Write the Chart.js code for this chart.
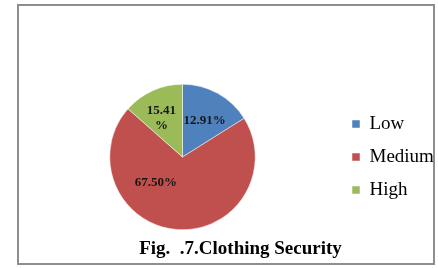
<!DOCTYPE html>
<html>
<head>
<meta charset="utf-8">
<script src="https://cdn.jsdelivr.net/npm/chart.js@4/dist/chart.umd.min.js"></script>
<style>
    html, body { margin: 0; padding: 0; background: #ffffff; overflow: hidden; }
    #wrap { position: relative; width: 438px; height: 268px; overflow: hidden; }
    #frame {
        position: absolute; left: 17px; top: 4px; width: 418px; height: 261px;
        box-sizing: border-box; border: 2px solid #8e8e8e; pointer-events: none;
    }
    #chart { position: absolute; left: 0; top: 0; }
</style>
</head>
<body>
<div id="wrap">
    <canvas id="chart" width="450" height="268" style="width:450px;height:268px"></canvas>
    <div id="frame"></div>
</div>
<script>
// Clothing Security - pie with manual data labels (as printed on the figure)

const categories = ['Low', 'Medium', 'High'];
// slice sizes as drawn in the figure
const shares = [15.41, 67.50, 12.91];
// label texts exactly as printed on each slice
const sliceLabels = [['12.91%'], ['67.50%'], ['15.41', '%']];
const sliceColors = ['#4F81BD', '#C0504D', '#9BBB59'];

const serif = "'Liberation Serif', 'Times New Roman', serif";

// where each label sits: [angle shift in degrees, fraction of radius]
const labelPlacement = [[2.5, 0.58], [41, 0.51], [-4, 0.61]];

const sliceLabelPlugin = {
    id: 'sliceLabels',
    afterDatasetsDraw(chart) {
        const ctx = chart.ctx;
        const meta = chart.getDatasetMeta(0);
        ctx.save();
        ctx.font = 'bold 13px ' + serif;
        ctx.fillStyle = '#161616';
        ctx.textAlign = 'center';
        ctx.textBaseline = 'middle';
        meta.data.forEach((arc, i) => {
            const p = arc.getProps(['x', 'y', 'startAngle', 'endAngle', 'outerRadius'], true);
            const place = labelPlacement[i];
            const mid = (p.startAngle + p.endAngle) / 2 + place[0] * Math.PI / 180;
            const r = p.outerRadius * place[1];
            const cx = p.x + Math.cos(mid) * r;
            const cy = p.y + Math.sin(mid) * r;
            const lines = sliceLabels[i];
            const lh = 14.5;
            lines.forEach((line, k) => {
                ctx.fillText(line, cx, cy + (k - (lines.length - 1) / 2) * lh);
            });
        });
        ctx.restore();
    }
};

// empty box between pie and legend so the pie sits further left
const legendGapPlugin = {
    id: 'legendGap',
    beforeInit(chart) {
        Chart.layouts.addBox(chart, {
            position: 'right',
            weight: 0,
            fullSize: false,
            options: {},
            left: 0, top: 0, right: 0, bottom: 0, width: 0, height: 0,
            isHorizontal() { return false; },
            update(maxWidth, maxHeight) {
                this.width = 18.5;
                this.height = maxHeight;
            },
            getPadding() { return { top: 0, left: 0, bottom: 0, right: 0 }; },
            draw() {}
        });
    }
};

new Chart(document.getElementById('chart'), {
    type: 'pie',
    data: {
        labels: categories,
        datasets: [{
            data: shares,
            backgroundColor: sliceColors,
            borderColor: '#ffffff',
            borderWidth: 0.5
        }]
    },
    options: {
        responsive: false,
        animation: false,
        layout: { padding: { top: 84, left: 45.5, right: 14.5, bottom: 7.7 } },
        plugins: {
            legend: {
                position: 'right',
                fullSize: false,
                labels: {
                    boxWidth: 8,
                    boxHeight: 8,
                    padding: 14,
                    color: '#000000',
                    font: { size: 19, family: serif }
                }
            },
            title: {
                display: true,
                position: 'bottom',
                text: 'Fig.  .7.Clothing Security',
                color: '#000000',
                padding: { top: 7.5, bottom: 0 },
                font: { size: 19, weight: 'bold', family: serif }
            },
            tooltip: { enabled: false }
        }
    },
    plugins: [sliceLabelPlugin, legendGapPlugin]
});
</script>
</body>
</html>
